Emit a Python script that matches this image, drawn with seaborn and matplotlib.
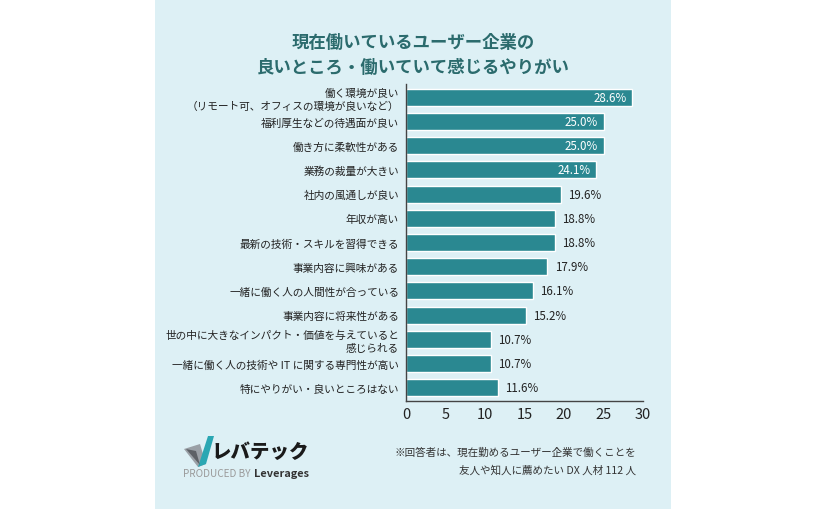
import matplotlib
matplotlib.use("Agg")
import matplotlib.pyplot as plt
from matplotlib.patches import Rectangle, Polygon
import pandas as pd
import seaborn as sns

# ─────────────────────────────────────────────
# Data
# ─────────────────────────────────────────────
CATEGORIES = [
    "働く環境が良い\n（リモート可、オフィスの環境が良いなど）",
    "福利厚生などの待遇面が良い",
    "働き方に柔軟性がある",
    "業務の裁量が大きい",
    "社内の風通しが良い",
    "年収が高い",
    "最新の技術・スキルを習得できる",
    "事業内容に興味がある",
    "一緒に働く人の人間性が合っている",
    "事業内容に将来性がある",
    "世の中に大きなインパクト・価値を与えていると\n感じられる",
    "一緒に働く人の技術や IT に関する専門性が高い",
    "特にやりがい・良いところはない",
]
VALUES = [28.6, 25.0, 25.0, 24.1, 19.6, 18.8, 18.8, 17.9, 16.1, 15.2, 10.7, 10.7, 11.6]
X_TICKS = [0, 5, 10, 15, 20, 25, 30]

TITLE = "現在働いているユーザー企業の\n良いところ・働いていて感じるやりがい"
NOTE = "※回答者は、現在勤めるユーザー企業で働くことを\n友人や知人に薦めたい DX 人材 112 人"

BAR_COLOR = "#2a8891"
PANEL_BG  = "#ddf0f5"
TITLE_COL = "#2b6b6d"
INSIDE_MIN = 24   # labels of bars this long go inside

sns.set_theme(style="white")
plt.rcParams["font.family"] = ["Noto Sans CJK JP", "DejaVu Sans"]

df = pd.DataFrame({"item": CATEGORIES, "pct": VALUES})

fig = plt.figure(figsize=(8.25, 5.1), dpi=100)
fig.patch.set_facecolor("white")

W, H = 825, 510

def px(x, y):
    return (x / W, 1 - y / H)

# light panel behind everything
fig.patches.append(Rectangle((155 / W, 0), (671 - 155) / W, 1,
                             transform=fig.transFigure, facecolor=PANEL_BG,
                             edgecolor="none", zorder=-5))

ax = fig.add_axes([406 / W, 1 - 402 / H, (643 - 406) / W, (402 - 85) / H])
ax.set_facecolor("none")

sns.barplot(data=df, x="pct", y="item", color=BAR_COLOR, width=0.7,
            saturation=1, ax=ax)

ax.set_xlim(0, 30)
ax.set_ylim(len(CATEGORIES) - 0.45, -0.55)
ax.set_xticks(X_TICKS)
ax.set_xticklabels([str(t) for t in X_TICKS], fontsize=10.5, color="#222222")
ax.set_yticklabels(CATEGORIES, fontsize=7.7, color="#222222", linespacing=1.25)
for lab in ax.get_yticklabels():
    lab.set_multialignment("right")
ax.tick_params(axis="both", length=0)
ax.tick_params(axis="y", pad=5)
ax.tick_params(axis="x", pad=4)
ax.set_xlabel("")
ax.set_ylabel("")

for s in ["top", "right"]:
    ax.spines[s].set_visible(False)
for s in ["left", "bottom"]:
    ax.spines[s].set_color("#444444")
    ax.spines[s].set_linewidth(1.0)

# value labels
for i, v in enumerate(VALUES):
    if v >= INSIDE_MIN:
        ax.text(v - 0.7, i, f"{v:.1f}%", ha="right", va="center",
                fontsize=8.3, color="white")
    else:
        ax.text(v + 0.9, i, f"{v:.1f}%", ha="left", va="center",
                fontsize=8.3, color="#222222")

# title
fig.text(413 / W, 1 - 55 / H, TITLE, ha="center", va="center",
         fontsize=12.5, fontweight="bold", color=TITLE_COL, linespacing=1.5)

# footnote
fig.text(636 / W, 1 - 462 / H, NOTE, ha="right", va="center",
         fontsize=7.6, color="#333333", linespacing=1.9, multialignment="right")

# logo: check mark + name
fig.patches.append(Polygon([px(184, 450), px(200, 445), px(206, 465), px(198, 468)],
                           closed=True, transform=fig.transFigure,
                           facecolor="#9aa0a6", edgecolor="none", zorder=2))
fig.patches.append(Polygon([px(198, 468), px(206, 465), px(214, 437), px(208, 437)],
                           closed=True, transform=fig.transFigure,
                           facecolor="#2aa7b3", edgecolor="none", zorder=2))
fig.patches.append(Polygon([px(186, 450), px(196, 452), px(200, 466)],
                           closed=True, transform=fig.transFigure,
                           facecolor="#5d6166", edgecolor="none", zorder=3))
fig.text(212 / W, 1 - 452 / H, "レバテック", ha="left", va="center",
         fontsize=14, fontweight="black", color="#1a1a1a")
fig.text(183 / W, 1 - 474 / H, "PRODUCED BY", ha="left", va="center",
         fontsize=7.2, color="#9a9a9a")
fig.text(254 / W, 1 - 474 / H, "Leverages", ha="left", va="center",
         fontsize=7.9, fontweight="bold", color="#333333")

fig.savefig("out.png", dpi=100)
